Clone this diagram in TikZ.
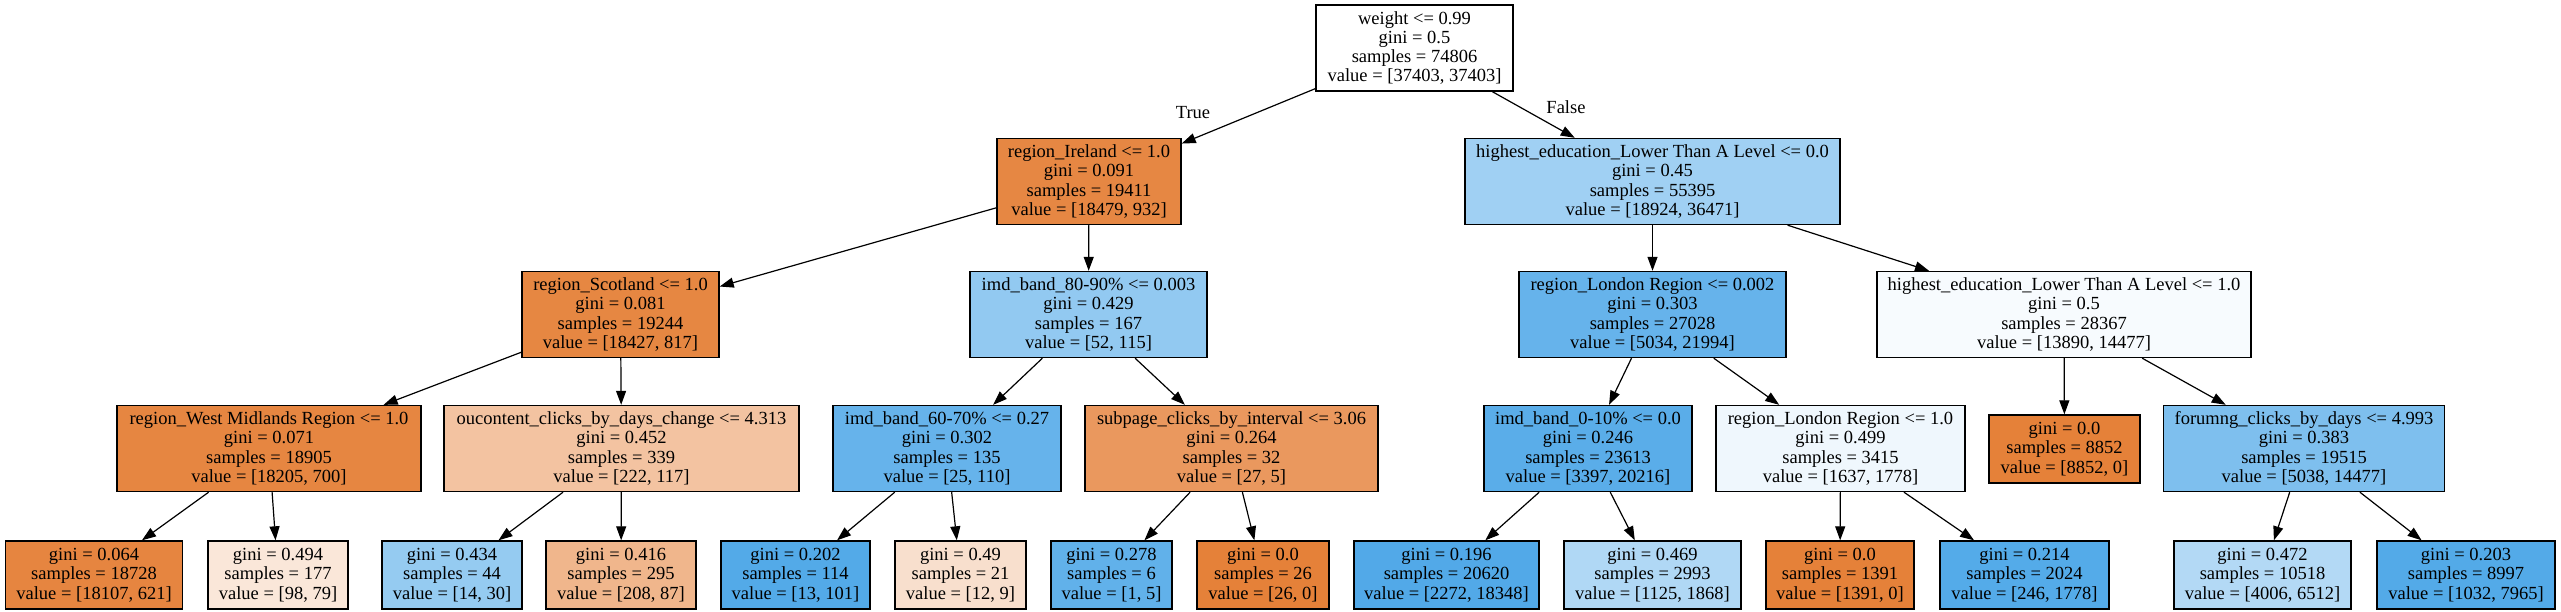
\documentclass[tikz,border=0pt]{standalone}
\usepackage{fontspec}
\setmainfont{Liberation Serif}
\usetikzlibrary{arrows.meta}
\definecolor{cO}{RGB}{229,129,57}
\definecolor{cB}{RGB}{57,157,229}
\tikzset{
  tbox/.style={draw=black, line width=1.4pt, rectangle, inner sep=0pt, align=center,
    minimum height=86pt, font=\fontsize{18.5}{19.3}\selectfont},
  lbox/.style={tbox, minimum height=68pt},
  edge/.style={draw=black, line width=1.2pt, -{Triangle[length=14pt,width=10pt]}},
  elabel/.style={font=\fontsize{18.5}{19.3}\selectfont}
}
\begin{document}
\begin{tikzpicture}[x=1pt,y=-1pt]
\useasboundingbox[fill=white] (0,0) rectangle (2561,611);
% row 0
\node[tbox, fill=white, minimum width=197pt] (root) at (1414.5,48) {weight <= 0.99\\gini = 0.5\\samples = 74806\\value = [37403, 37403]};
% row 1
\node[tbox, fill=cO!95, minimum width=184pt] (ire) at (1089,181.5) {region\_Ireland <= 1.0\\gini = 0.091\\samples = 19411\\value = [18479, 932]};
\node[tbox, fill=cB!48, minimum width=375pt] (hed0) at (1652.5,181.5) {highest\_education\_Lower Than A Level <= 0.0\\gini = 0.45\\samples = 55395\\value = [18924, 36471]};
% row 2
\node[tbox, fill=cO!95.6, minimum width=197pt] (sco) at (620.5,314.5) {region\_Scotland <= 1.0\\gini = 0.081\\samples = 19244\\value = [18427, 817]};
\node[tbox, fill=cB!54.8, minimum width=237pt] (imdE) at (1088.5,314.5) {imd\_band\_80-90\% <= 0.003\\gini = 0.429\\samples = 167\\value = [52, 115]};
\node[tbox, fill=cB!77.1, minimum width=267pt] (lonA) at (1652.5,314.5) {region\_London Region <= 0.002\\gini = 0.303\\samples = 27028\\value = [5034, 21994]};
\node[tbox, fill=cB!4, minimum width=374pt] (hed1) at (2064,314.5) {highest\_education\_Lower Than A Level <= 1.0\\gini = 0.5\\samples = 28367\\value = [13890, 14477]};
% row 3
\node[tbox, fill=cO!96.2, minimum width=304pt] (wmid) at (269,448.5) {region\_West Midlands Region <= 1.0\\gini = 0.071\\samples = 18905\\value = [18205, 700]};
\node[tbox, fill=cO!47.3, minimum width=355pt] (ouc) at (621.5,448.5) {oucontent\_clicks\_by\_days\_change <= 4.313\\gini = 0.452\\samples = 339\\value = [222, 117]};
\node[tbox, fill=cB!77.3, minimum width=228pt] (imdS) at (947,448.5) {imd\_band\_60-70\% <= 0.27\\gini = 0.302\\samples = 135\\value = [25, 110]};
\node[tbox, fill=cO!81.5, minimum width=293pt] (sub) at (1231.5,448.5) {subpage\_clicks\_by\_interval <= 3.06\\gini = 0.264\\samples = 32\\value = [27, 5]};
\node[tbox, fill=cB!83.2, minimum width=208pt] (imdZ) at (1588,448.5) {imd\_band\_0-10\% <= 0.0\\gini = 0.246\\samples = 23613\\value = [3397, 20216]};
\node[tbox, fill=cB!7.9, minimum width=249pt] (lonB) at (1840.5,448.5) {region\_London Region <= 1.0\\gini = 0.499\\samples = 3415\\value = [1637, 1778]};
\node[lbox, fill=cO, minimum width=151pt] (lf8852) at (2064.5,449) {gini = 0.0\\samples = 8852\\value = [8852, 0]};
\node[tbox, fill=cB!65.2, minimum width=281.5pt] (for) at (2304,448.5) {forumng\_clicks\_by\_days <= 4.993\\gini = 0.383\\samples = 19515\\value = [5038, 14477]};
% row 4
\node[lbox, fill=cO!96.6, minimum width=177.5pt] (l1) at (94,575) {gini = 0.064\\samples = 18728\\value = [18107, 621]};
\node[lbox, fill=cO!19.4, minimum width=140pt] (l2) at (278,575) {gini = 0.494\\samples = 177\\value = [98, 79]};
\node[lbox, fill=cB!53.3, minimum width=140pt] (l3) at (452,575) {gini = 0.434\\samples = 44\\value = [14, 30]};
\node[lbox, fill=cO!58.2, minimum width=150pt] (l4) at (621,575) {gini = 0.416\\samples = 295\\value = [208, 87]};
\node[lbox, fill=cB!87.1, minimum width=149pt] (l5) at (795.5,575) {gini = 0.202\\samples = 114\\value = [13, 101]};
\node[lbox, fill=cO!25, minimum width=131pt] (l6) at (960.5,575) {gini = 0.49\\samples = 21\\value = [12, 9]};
\node[lbox, fill=cB!80, minimum width=121pt] (l7) at (1111.5,575) {gini = 0.278\\samples = 6\\value = [1, 5]};
\node[lbox, fill=cO, minimum width=132pt] (l8) at (1263,575) {gini = 0.0\\samples = 26\\value = [26, 0]};
\node[lbox, fill=cB!87.6, minimum width=185pt] (l9) at (1446.5,575) {gini = 0.196\\samples = 20620\\value = [2272, 18348]};
\node[lbox, fill=cB!39.8, minimum width=177pt] (l10) at (1652.5,575) {gini = 0.469\\samples = 2993\\value = [1125, 1868]};
\node[lbox, fill=cO, minimum width=148pt] (l11) at (1840,575) {gini = 0.0\\samples = 1391\\value = [1391, 0]};
\node[lbox, fill=cB!86.2, minimum width=169pt] (l12) at (2024.5,575) {gini = 0.214\\samples = 2024\\value = [246, 1778]};
\node[lbox, fill=cB!38.5, minimum width=177pt] (l13) at (2262.5,575) {gini = 0.472\\samples = 10518\\value = [4006, 6512]};
\node[lbox, fill=cB!87, minimum width=178pt] (l14) at (2466,575) {gini = 0.203\\samples = 8997\\value = [1032, 7965]};
% edges
\draw[edge] (root) -- (ire);
\draw[edge] (root) -- (hed0);
\draw[edge] (ire) -- (sco);
\draw[edge] (ire) -- (imdE);
\draw[edge] (hed0) -- (lonA);
\draw[edge] (hed0) -- (hed1);
\draw[edge] (sco) -- (wmid);
\draw[edge] (sco) -- (ouc);
\draw[edge] (imdE) -- (imdS);
\draw[edge] (imdE) -- (sub);
\draw[edge] (lonA) -- (imdZ);
\draw[edge] (lonA) -- (lonB);
\draw[edge] (hed1) -- (lf8852);
\draw[edge] (hed1) -- (for);
\draw[edge] (wmid) -- (l1);
\draw[edge] (wmid) -- (l2);
\draw[edge] (ouc) -- (l3);
\draw[edge] (ouc) -- (l4);
\draw[edge] (imdS) -- (l5);
\draw[edge] (imdS) -- (l6);
\draw[edge] (sub) -- (l7);
\draw[edge] (sub) -- (l8);
\draw[edge] (imdZ) -- (l9);
\draw[edge] (imdZ) -- (l10);
\draw[edge] (lonB) -- (l11);
\draw[edge] (lonB) -- (l12);
\draw[edge] (for) -- (l13);
\draw[edge] (for) -- (l14);
% edge labels
\node[elabel] (ltrue) at (1193,113) {True};
\node[elabel] (lfalse) at (1566,107) {False};
\end{tikzpicture}
\end{document}
